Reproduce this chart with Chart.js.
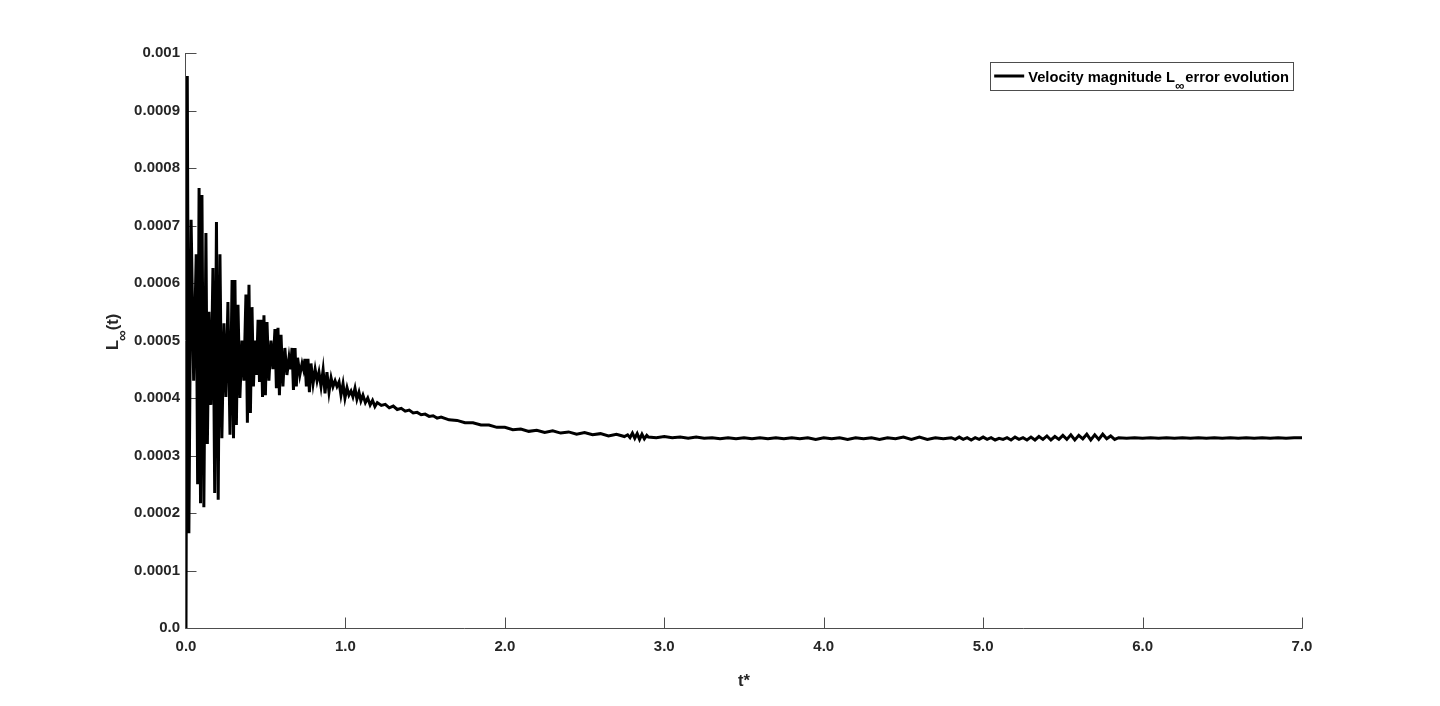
<!DOCTYPE html>
<html>
<head>
<meta charset="utf-8">
<script src="https://cdn.jsdelivr.net/npm/chart.js@4.4.1/dist/chart.umd.min.js"></script>
<style>
html,body{margin:0;padding:0;background:#fff;}
#wrap{width:1440px;height:706px;position:relative;}
</style>
</head>
<body>
<div id="wrap"><canvas id="c"></canvas></div>
<script>
// ---- data ----
const xTickLabels = ["0.0","1.0","2.0","3.0","4.0","5.0","6.0","7.0"];
const yTickLabels = ["0.0","0.0001","0.0002","0.0003","0.0004","0.0005","0.0006","0.0007","0.0008","0.0009","0.001"];

// oscillating start (peaks and troughs)
const tOsc = [0, 0.008, 0.018, 0.032, 0.048, 0.064, 0.073, 0.082, 0.091, 0.100, 0.112, 0.125, 0.134, 0.144, 0.156, 0.169, 0.180, 0.191, 0.202, 0.213, 0.225, 0.238, 0.250, 0.263, 0.276, 0.289, 0.298, 0.307, 0.316, 0.326, 0.338, 0.351, 0.363, 0.376, 0.385, 0.395, 0.404, 0.414, 0.423, 0.433, 0.442, 0.452, 0.461, 0.470, 0.480, 0.489, 0.498, 0.508, 0.520, 0.533, 0.545, 0.558, 0.567, 0.577, 0.586, 0.596, 0.608, 0.620, 0.633, 0.646, 0.655, 0.665, 0.674, 0.684, 0.692, 0.700, 0.714, 0.728, 0.737, 0.746, 0.755, 0.765, 0.774, 0.784, 0.797, 0.810, 0.822, 0.834, 0.847, 0.860, 0.872, 0.884, 0.897, 0.910, 0.922, 0.935, 0.947, 0.960, 0.972, 0.985, 0.997, 1.010, 1.022, 1.035, 1.047, 1.060, 1.072, 1.085, 1.097, 1.110, 1.125, 1.140, 1.155, 1.170, 1.185];
const errOsc = [0,
 0.00096, 0.000165, 0.00071, 0.00043, 0.00065, 0.00025, 0.000765, 0.000217, 0.000753, 0.00021,
 0.000687, 0.00032, 0.00055, 0.000388, 0.000626, 0.000235, 0.000706, 0.000223, 0.00065, 0.00033,
 0.00053, 0.000402, 0.000567, 0.000336, 0.000605, 0.00033, 0.000605, 0.000353, 0.000562, 0.0004,
 0.0005, 0.00043, 0.00058, 0.000357, 0.000597, 0.000374, 0.000558, 0.00042, 0.0005, 0.00044,
 0.000536, 0.000428, 0.000536, 0.000402, 0.000544, 0.000405, 0.000532, 0.00043, 0.0005, 0.00045,
 0.00052, 0.000417, 0.000522, 0.000405, 0.00051, 0.00042, 0.000487, 0.00044, 0.00047, 0.00045,
 0.000487, 0.000414, 0.000487, 0.00042, 0.00047, 0.00044, 0.00046, 0.00045, 0.000468, 0.00042,
 0.000468, 0.00041, 0.00046, 0.000425, 0.00045, 0.00043, 0.000445, 0.00042, 0.000449, 0.000408,
 0.000445, 0.00041, 0.000435, 0.00042, 0.00043, 0.00042, 0.000428, 0.000405, 0.000425, 0.0004,
 0.000418, 0.000405, 0.000412, 0.000402, 0.000417, 0.000398, 0.00041, 0.000395, 0.000405, 0.000392,
 0.0004, 0.000388, 0.000396, 0.000385];

// decay and plateau
const tTail = [
 1.20,1.225,1.25,1.275,1.30,1.325,1.35,1.375,1.40,1.425,1.45,1.475,1.50,1.525,1.55,1.575,1.60,
 1.65,1.70,1.75,1.80,1.85,1.90,1.95,
 2.00,2.05,2.10,2.15,2.20,2.25,2.30,2.35,2.40,2.45,2.50,2.55,2.60,2.65,2.70,2.75,
 2.77,2.785,2.80,2.815,2.83,2.845,2.86,2.875,2.89,2.90,2.95,
 3.00,3.05,3.10,3.15,3.20,3.25,3.30,3.35,3.40,3.45,3.50,3.55,3.60,3.65,3.70,3.75,3.80,3.85,3.90,3.95,
 4.00,4.05,4.10,4.15,4.20,4.25,4.30,4.35,4.40,4.45,4.50,4.55,4.60,4.65,4.70,4.75,
 4.80,4.825,4.85,4.875,4.90,4.925,4.95,4.975,5.00,5.025,5.05,5.075,5.10,5.125,5.15,5.175,5.20,5.225,5.25,5.275,
 5.30,5.325,5.35,5.375,5.40,5.425,5.45,5.475,5.50,5.525,5.55,5.575,5.60,5.625,5.65,5.675,5.70,5.725,5.75,5.775,
 5.80,5.825,5.85,
 5.90,5.95,6.00,6.05,6.10,6.15,6.20,6.25,6.30,6.35,6.40,6.45,6.50,6.55,6.60,6.65,6.70,6.75,6.80,6.85,6.90,6.95,7.00];
const errTail = [
 0.000392,0.000387,0.000389,0.000383,0.000386,0.000380,0.000382,0.000377,0.000379,0.000374,0.000375,0.000371,0.000372,0.000368,0.000369,0.000365,0.000367,
 0.000362,0.000361,0.000357,0.000357,0.000353,0.000353,0.000349,
 0.000349,0.000345,0.000346,0.000342,0.000344,0.000340,0.000343,0.000339,0.000341,0.000337,0.000340,0.000336,0.000338,0.000334,0.000337,0.000333,
 0.000336,0.000331,0.000339,0.000330,0.000338,0.000328,0.000337,0.000329,0.000335,0.000332,0.000331,
 0.000333,0.000331,0.000332,0.000330,0.000332,0.000330,0.000331,0.000329,0.000331,0.000329,0.000331,0.000329,0.000331,0.000329,0.000331,0.000329,0.000331,0.000329,0.000331,0.000328,
 0.000331,0.000329,0.000331,0.000328,0.000331,0.000329,0.000331,0.000328,0.000331,0.000329,0.000332,0.000328,0.000332,0.000328,0.000331,0.000329,
 0.000331,0.000328,0.000332,0.000328,0.000331,0.000327,0.000331,0.000328,0.000332,0.000328,0.000331,0.000327,0.000330,0.000328,0.000331,0.000327,0.000332,0.000328,0.000331,0.000327,
 0.000332,0.000327,0.000333,0.000328,0.000334,0.000327,0.000333,0.000328,0.000335,0.000328,0.000336,0.000327,0.000335,0.000329,0.000337,0.000327,0.000336,0.000328,0.000337,0.000329,
 0.000334,0.000328,0.000331,
 0.000330,0.000331,0.000330,0.000331,0.000330,0.000331,0.000330,0.000331,0.000330,0.000331,0.000330,0.000331,0.000330,0.000331,0.000330,0.000331,0.000330,0.000331,0.000330,0.000331,0.000330,0.000331,0.000331];

const seriesLabel = "Velocity magnitude L∞error evolution";
const xTitle = "t*";

// ---- build points ----
const pts = [];
for (let i = 0; i < Math.min(tOsc.length, errOsc.length); i++) pts.push({x: tOsc[i], y: errOsc[i]});
for (let i = 0; i < Math.min(tTail.length, errTail.length); i++) pts.push({x: tTail[i], y: errTail[i]});

const FONT = '"Liberation Sans", Arial, Helvetica, sans-serif';
const AX = '#4d4d4d';
const TXT = '#262626';

const axesPlugin = {
  id: 'matlabAxes',
  beforeDatasetsDraw(chart) {
    const {ctx, chartArea: a, scales: {x, y}} = chart;
    ctx.save();
    ctx.strokeStyle = AX;
    ctx.lineWidth = 1;
    ctx.beginPath();
    const by = Math.round(a.bottom) + 0.5;
    const lx = Math.round(a.left) - 0.5;
    ctx.moveTo(lx, by); ctx.lineTo(Math.round(a.right) + 0.5, by);
    ctx.moveTo(lx, by); ctx.lineTo(lx, Math.round(a.top));
    x.ticks.forEach(t => {
      const px = Math.round(x.getPixelForValue(t.value)) + 0.5;
      ctx.moveTo(px, by); ctx.lineTo(px, by - 11);
    });
    y.ticks.forEach(t => {
      const py = Math.round(y.getPixelForValue(t.value)) + 0.5;
      ctx.moveTo(lx, py); ctx.lineTo(lx + 11, py);
    });
    ctx.stroke();
    ctx.restore();
  },
  afterDraw(chart) {
    const {ctx, chartArea: a} = chart;
    ctx.save();
    ctx.fillStyle = TXT;
    // x title
    ctx.font = 'bold 16.5px ' + FONT;
    ctx.textAlign = 'center';
    ctx.textBaseline = 'alphabetic';
    ctx.fillText(xTitle, (a.left + a.right) / 2, 686);
    // y title with subscript
    ctx.translate(118, 350);
    ctx.rotate(-Math.PI / 2);
    ctx.textAlign = 'left';
    ctx.font = 'bold 16.5px ' + FONT;
    ctx.fillText('L', 0, 0);
    let w = ctx.measureText('L').width;
    ctx.font = 'bold 15px ' + FONT;
    ctx.fillText('∞', w - 1, 9);
    w += ctx.measureText('∞').width - 1;
    ctx.font = 'bold 16.5px ' + FONT;
    ctx.fillText('(t)', w, 0);
    ctx.restore();

    // legend
    ctx.save();
    const parts = seriesLabel.split('∞');
    const mainF = 'bold 14.7px ' + FONT, subF = 'bold 13px ' + FONT;
    ctx.font = mainF; const w1 = ctx.measureText(parts[0]).width; const w3 = ctx.measureText(parts[1]).width;
    ctx.font = subF; const w2 = ctx.measureText('∞').width;
    const boxR = a.right - 9, boxT = a.top + 9, boxH = 28;
    const textW = w1 + w2 + 1 + w3;
    const boxW = 4 + 30 + 4 + textW + 4;
    const boxL = boxR - boxW;
    ctx.fillStyle = '#fff';
    ctx.fillRect(boxL, boxT, boxW, boxH);
    ctx.strokeStyle = AX; ctx.lineWidth = 1;
    ctx.strokeRect(Math.round(boxL) + 0.5, Math.round(boxT) + 0.5, Math.round(boxW), boxH);
    ctx.strokeStyle = '#000'; ctx.lineWidth = 3;
    ctx.beginPath(); ctx.moveTo(boxL + 4, boxT + 14); ctx.lineTo(boxL + 34, boxT + 14); ctx.stroke();
    ctx.fillStyle = '#000';
    ctx.textBaseline = 'alphabetic'; ctx.textAlign = 'left';
    let tx = boxL + 38;
    const base = boxT + 19.5;
    ctx.font = mainF; ctx.fillText(parts[0], tx, base); tx += w1;
    ctx.font = subF; ctx.fillText('∞', tx, base + 8); tx += w2 + 1;
    ctx.font = mainF; ctx.fillText(parts[1], tx, base);
    ctx.restore();
  }
};

new Chart(document.getElementById('c'), {
  type: 'line',
  data: {
    datasets: [{
      label: seriesLabel,
      data: pts,
      borderColor: '#000',
      backgroundColor: '#000',
      borderWidth: 3,
      pointRadius: 0,
      tension: 0,
      fill: false
    }]
  },
  options: {
    responsive: true,
    maintainAspectRatio: false,
    animation: false,
    events: [],
    layout: {padding: {left: 0, right: 138, top: 53, bottom: 0}},
    plugins: {legend: {display: false}, tooltip: {enabled: false}, title: {display: false}},
    scales: {
      x: {
        type: 'linear', min: 0, max: 7,
        grid: {display: false, drawTicks: false},
        border: {display: false},
        ticks: {
          stepSize: 1, padding: 10, color: TXT, maxRotation: 0,
          font: {family: FONT, size: 15, weight: 'bold'},
          callback: (v, i) => xTickLabels[i]
        },
        afterFit: s => { s.height = 78; }
      },
      y: {
        type: 'linear', min: 0, max: 0.001,
        grid: {display: false, drawTicks: false},
        border: {display: false},
        ticks: {
          stepSize: 0.0001, padding: 6, color: TXT,
          font: {family: FONT, size: 15, weight: 'bold'},
          callback: (v, i) => yTickLabels[i]
        },
        afterFit: s => { s.width = 186; }
      }
    }
  },
  plugins: [axesPlugin]
});
</script>
</body>
</html>
